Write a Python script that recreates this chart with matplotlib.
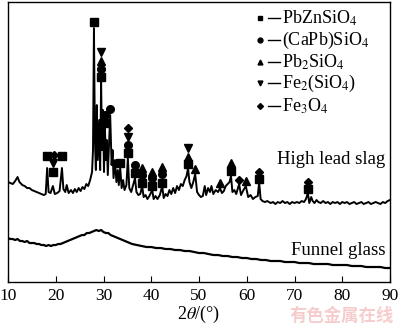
import numpy as np
import matplotlib.pyplot as plt

plt.rcParams['font.family'] = ['Liberation Serif', 'DejaVu Serif']
plt.rcParams['mathtext.fontset'] = 'stix'

# high lead slag pattern (2theta, intensity)
slag_x = [10.0, 10.5, 11.0, 11.5, 12.0, 12.4, 13.0, 13.5, 14.0, 14.5, 15.0, 15.5, 16.0, 16.5, 17.0, 17.5,
          17.9, 18.2, 18.5, 18.9, 19.4, 19.8, 20.3, 20.8, 21.3, 21.6, 22.0, 22.3, 22.7, 23.2, 23.6, 24.0,
          24.4, 24.8, 25.2, 25.6, 26.0, 26.4, 26.8, 27.2, 27.6, 27.8, 28.0, 28.2, 28.4, 28.6, 28.8, 29.1,
          29.3, 29.5, 29.7, 29.9, 30.1, 30.3, 30.5, 30.7, 30.9, 31.1, 31.4, 31.7, 31.9, 32.1, 32.4, 32.7,
          33.0, 33.2, 33.5, 33.8, 34.1, 34.4, 34.8, 35.1, 35.4, 35.8, 36.2, 36.6, 36.9, 37.3, 37.7, 38.1,
          38.4, 38.8, 39.2, 39.6, 40.2, 40.5, 40.9, 41.3, 41.8, 42.3, 42.6, 43.0, 43.4, 43.8, 44.2, 44.6,
          45.0, 45.4, 45.8, 46.2, 46.6, 47.0, 47.4, 47.7, 48.0, 48.4, 48.8, 49.2, 49.6, 50.0, 50.4, 50.8,
          51.2, 51.5, 51.9, 52.3, 52.6, 53.0, 53.5, 54.0, 54.4, 54.8, 55.2, 55.6, 56.0, 56.4, 56.7, 57.0,
          57.4, 57.8, 58.4, 58.8, 59.2, 59.8, 60.3, 60.8, 61.3, 61.8, 62.3, 62.6, 62.9, 63.3, 63.8, 64.3,
          65.0, 65.5, 66.0, 66.5, 67.0, 67.5, 68.0, 68.5, 69.0, 69.5, 70.0, 70.5, 71.0, 71.5, 72.0, 72.4,
          72.8, 73.1, 73.5, 73.8, 74.2, 74.6, 75.0, 75.5, 76.0, 76.5, 77.0, 77.5, 78.0, 78.5, 79.0, 79.5,
          80.0, 80.5, 81.0, 81.5, 82.0, 82.5, 83.0, 83.5, 84.0, 84.5, 85.0, 85.5, 86.0, 86.5, 87.0, 87.5,
          88.0, 88.5, 89.0, 89.5, 90.0]
slag_y = [100, 99, 98, 101, 105, 100, 97, 96, 94, 94, 92, 91, 90, 89, 88, 87,
          88, 114, 90, 89, 96, 88, 89, 91, 114, 93, 90, 97, 89, 92, 89, 93,
          90, 94, 91, 95, 93, 98, 96, 102, 110, 132, 254, 142, 112, 177, 122, 162,
          112, 200, 132, 172, 110, 154, 122, 142, 107, 132, 167, 117, 132, 104, 122, 100,
          112, 97, 114, 94, 102, 92, 97, 124, 94, 90, 97, 104, 90, 87, 88, 96,
          85, 87, 83, 86, 92, 83, 86, 83, 87, 96, 84, 88, 86, 92, 88, 94,
          89, 96, 92, 98, 96, 102, 106, 114, 100, 94, 100, 108, 90, 87, 85, 86,
          96, 87, 94, 90, 96, 88, 92, 90, 94, 89, 91, 96, 98, 100, 106, 90,
          92, 88, 98, 87, 91, 96, 85, 87, 83, 85, 86, 100, 83, 81, 80, 81,
          79, 80, 78, 80, 79, 81, 79, 80, 78, 80, 79, 80, 79, 81, 80, 83,
          89, 79, 85, 81, 79, 82, 80, 79, 81, 79, 80, 78, 80, 79, 80, 78,
          80, 79, 80, 78, 79, 80, 78, 79, 80, 78, 79, 80, 78, 79, 80, 79,
          78, 80, 79, 81, 82]

# funnel glass pattern
glass_x = [10, 10.5, 11, 11.5, 12, 12.5, 13, 13.5, 14, 14.5, 15, 15.5, 16, 16.5, 17, 17.5, 18, 18.5,
           19, 19.5, 20, 20.5, 21, 21.5, 22, 22.5, 23, 23.5, 24, 24.5, 25, 25.5, 26, 26.5, 27, 27.5,
           28, 28.5, 29, 29.5, 30, 30.5, 31, 31.5, 32, 32.5, 33, 33.5, 34, 34.5, 35, 35.5, 36, 37,
           38, 39, 40, 41, 42, 43, 44, 45, 46, 47, 48, 49, 50, 51, 52, 53, 54, 55, 56, 57, 58, 59,
           60, 61, 62, 63, 64, 65, 66, 67, 68, 69, 70, 71, 72, 73, 74, 75, 76, 77, 78, 79, 80, 81,
           82, 83, 84, 85, 86, 87, 88, 89, 90]
glass_y = [44, 43, 43, 42, 43, 41, 41, 40, 41, 39, 39, 39, 38, 38, 37, 37, 36, 37,
           36, 37, 37, 38, 38, 39, 40, 41, 42, 43, 44, 45, 46, 47, 47, 49, 49, 50,
           51, 52, 51, 52, 50, 49, 49, 47, 46, 45, 44, 43, 42, 41, 40, 39, 38, 37,
           36, 35, 35, 34, 34, 33, 33, 32, 32, 31, 31, 30, 29, 29, 28, 27, 27, 26, 26, 25, 25, 24,
           24, 23, 23, 22, 22, 21, 21, 21, 20, 20, 20, 19, 19, 19, 18, 18, 18, 18, 17, 17, 17, 17,
           16, 16, 16, 15, 15, 15, 15, 14, 14]

# phase markers (2theta, intensity)
sq_x = [18.2, 19.4, 21.3, 28.0, 29.5, 30.3, 33.5, 35.1, 36.6, 38.1, 40.2, 42.3, 47.7, 56.7, 62.6, 72.8]
sq_y = [126, 110, 126, 260, 205, 159, 119, 129, 109, 99, 96, 99, 118, 111, 103, 93]
ci_x = [29.5, 30.3, 31.4, 35.1, 36.6, 38.1, 40.2, 42.3]
ci_y = [213, 167, 173, 137, 117, 107, 104, 108]
up_x = [29.5, 38.1, 40.2, 42.3, 47.7, 49.2, 54.4, 56.7, 59.8]
up_y = [221, 114, 110, 115, 125, 113, 99, 119, 101]
dn_x = [19.4, 29.5, 35.1, 47.7]
dn_y = [119, 230, 145, 134]
di_x = [19.6, 35.1, 58.4, 62.6, 72.8]
di_y = [127, 154, 102, 110, 100]

phases = ['PbZnSiO$_4$', '(CaPb)SiO$_4$', 'Pb$_2$SiO$_4$', 'Fe$_2$(SiO$_4$)', 'Fe$_3$O$_4$']
symbols = ['s', 'o', '^', 'v', 'D']

fig = plt.figure(figsize=(4, 3.27), dpi=100)
ax = fig.add_axes([0.02, 0.1376, 0.955, 0.856])

ax.plot(slag_x, slag_y, color='black', lw=1.4)
ax.plot(glass_x, glass_y, color='black', lw=1.6)

ms = 5.5
ax.plot(sq_x, sq_y, 's', color='black', ms=ms)
ax.plot(ci_x, ci_y, 'o', color='black', ms=ms)
ax.plot(up_x, up_y, '^', color='black', ms=ms)
ax.plot(dn_x, dn_y, 'v', color='black', ms=ms)
ax.plot(di_x, di_y, 'D', color='black', ms=4.2)

# legend drawn by hand
rows = [0.943, 0.864, 0.786, 0.711, 0.629]
for name, sym, yy in zip(phases, symbols, rows):
    ax.plot([0.66], [yy], sym, color='black', ms=3.5 if sym != 'D' else 3, transform=ax.transAxes)
    ax.plot([0.681, 0.712], [yy, yy], color='black', lw=1.0, transform=ax.transAxes)
    ax.text(0.718, yy, name, fontsize=13, va='center', ha='left', transform=ax.transAxes)

ax.text(0.987, 0.436, 'High lead slag', fontsize=13.5, ha='right', va='center', transform=ax.transAxes)
ax.text(0.987, 0.114, 'Funnel glass', fontsize=13.5, ha='right', va='center', transform=ax.transAxes)

ax.set_xlim(10, 90)
ax.set_ylim(0, 280)
ax.set_xticks(np.arange(10, 91, 10))
ax.set_yticks([])
ax.tick_params(axis='x', direction='in', length=4, labelsize=12.5, pad=4)
ax.set_xlabel(r'2$\theta$/(°)', fontsize=13, labelpad=0)
for s in ax.spines.values():
    s.set_linewidth(1.0)

fig.text(0.985, 0.035, '有色金属在线', fontsize=12.5, color='#f7cccc', ha='right', va='center',
         family=['Noto Sans CJK SC', 'DejaVu Sans'], weight='bold')

fig.savefig('out.png', dpi=100)
